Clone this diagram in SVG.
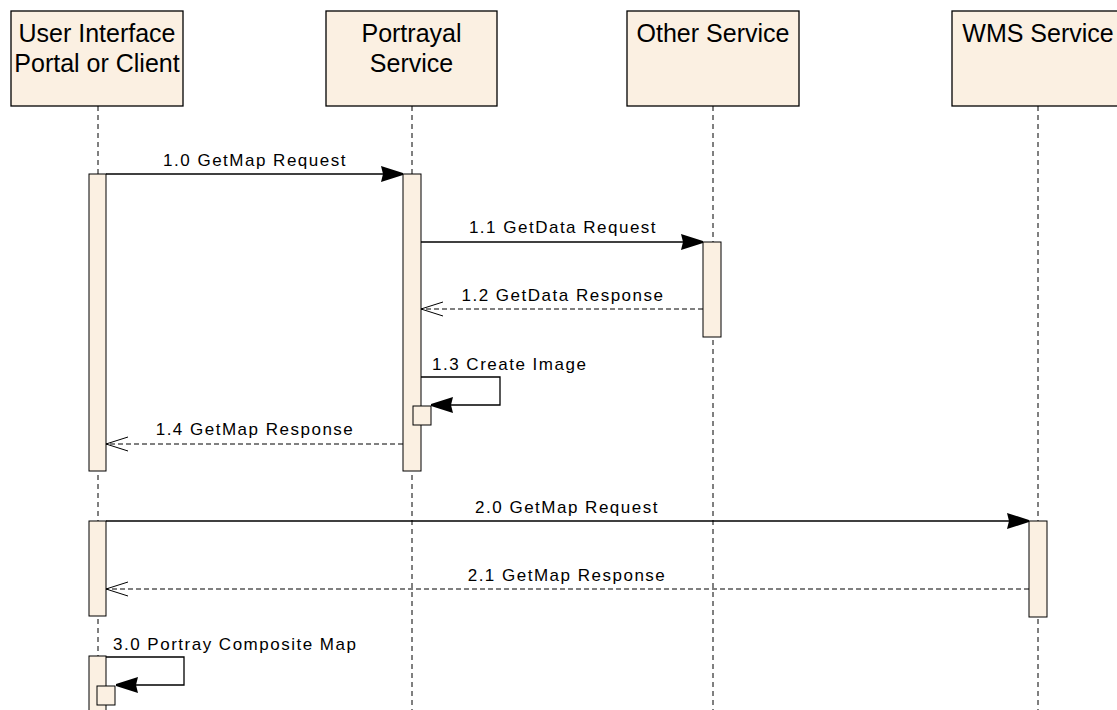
<svg xmlns="http://www.w3.org/2000/svg" width="1117" height="710" viewBox="0 0 1117 710">
<style>
.hdr{fill:#FBF0E2;stroke:#000;stroke-width:1.3}
.bar{fill:#FBF0E2;stroke:#000;stroke-width:1}
.life{stroke:#000;stroke-width:1;stroke-dasharray:5,4;fill:none}
.t{font-family:"Liberation Sans",Arial,sans-serif;font-size:25px;fill:#000}
.m{font-family:"Liberation Sans",Arial,sans-serif;font-size:17px;letter-spacing:1.5px;fill:#000}
.call{stroke:#000;stroke-width:1.3;fill:none;marker-end:url(#filled)}
.ret{stroke:#000;stroke-width:1;fill:none;stroke-dasharray:5,3;marker-end:url(#open)}
</style>
<defs>
<marker id="filled" markerUnits="userSpaceOnUse" markerWidth="24" markerHeight="18" refX="22" refY="8" orient="auto" overflow="visible">
<path d="M0,0 L22,7 L22,9 L0,16 L2,8 z" fill="#000"/>
</marker>
<marker id="open" markerUnits="userSpaceOnUse" markerWidth="24" markerHeight="18" refX="22" refY="7" orient="auto" overflow="visible">
<path d="M0,0 L22,7 L0,14" fill="none" stroke="#000" stroke-width="1"/>
</marker>
</defs>
<rect width="1117" height="710" fill="#fff"/>

<g id="ui">
<line class="life" x1="98" y1="106" x2="98" y2="710"/>
<rect class="hdr" x="11" y="11" width="172" height="95"/>
<text class="t" x="97" y="42" text-anchor="middle">User Interface</text>
<text class="t" x="97" y="72" text-anchor="middle">Portal or Client</text>
<rect class="bar" x="89" y="174" width="17" height="297"/>
<rect class="bar" x="89" y="521" width="17" height="95"/>
<rect class="bar" x="89" y="656" width="17" height="60"/>
<rect class="bar" x="97" y="686" width="18" height="19"/>
</g>

<g id="portrayal">
<line class="life" x1="412" y1="106" x2="412" y2="710"/>
<rect class="hdr" x="326" y="11" width="171" height="95"/>
<text class="t" x="411.5" y="42" text-anchor="middle">Portrayal</text>
<text class="t" x="411.5" y="72" text-anchor="middle">Service</text>
<rect class="bar" x="403" y="174" width="18" height="297"/>
<rect class="bar" x="413" y="406" width="18" height="19"/>
</g>

<g id="other">
<line class="life" x1="713" y1="106" x2="713" y2="710"/>
<rect class="hdr" x="627" y="11" width="172" height="95"/>
<text class="t" x="713" y="42" text-anchor="middle">Other Service</text>
<rect class="bar" x="703" y="242" width="18" height="95"/>
</g>

<g id="wms">
<line class="life" x1="1038" y1="106" x2="1038" y2="710"/>
<rect class="hdr" x="952" y="11" width="172" height="95"/>
<text class="t" x="1038" y="42" text-anchor="middle">WMS Service</text>
<rect class="bar" x="1029" y="521" width="18" height="96"/>
</g>

<g id="connectors">
<line class="call" x1="106" y1="174" x2="403" y2="174"/>
<text class="m" x="255" y="166" text-anchor="middle">1.0 GetMap Request</text>

<line class="call" x1="421" y1="242" x2="703" y2="242"/>
<text class="m" x="563" y="233" text-anchor="middle">1.1 GetData Request</text>

<line class="ret" x1="703" y1="309" x2="421" y2="309"/>
<text class="m" x="563" y="301" text-anchor="middle">1.2 GetData Response</text>

<polyline class="call" points="421,377 500,377 500,405 431,405"/>
<text class="m" x="432" y="370">1.3 Create Image</text>

<line class="ret" x1="403" y1="444" x2="106" y2="444"/>
<text class="m" x="255" y="435" text-anchor="middle">1.4 GetMap Response</text>

<line class="call" x1="106" y1="521" x2="1029" y2="521"/>
<text class="m" x="567" y="513" text-anchor="middle">2.0 GetMap Request</text>

<line class="ret" x1="1029" y1="589" x2="106" y2="589"/>
<text class="m" x="567" y="581" text-anchor="middle">2.1 GetMap Response</text>

<polyline class="call" points="106,657 184,657 184,685 116,685"/>
<text class="m" x="113" y="650">3.0 Portray Composite Map</text>
</g>
</svg>
